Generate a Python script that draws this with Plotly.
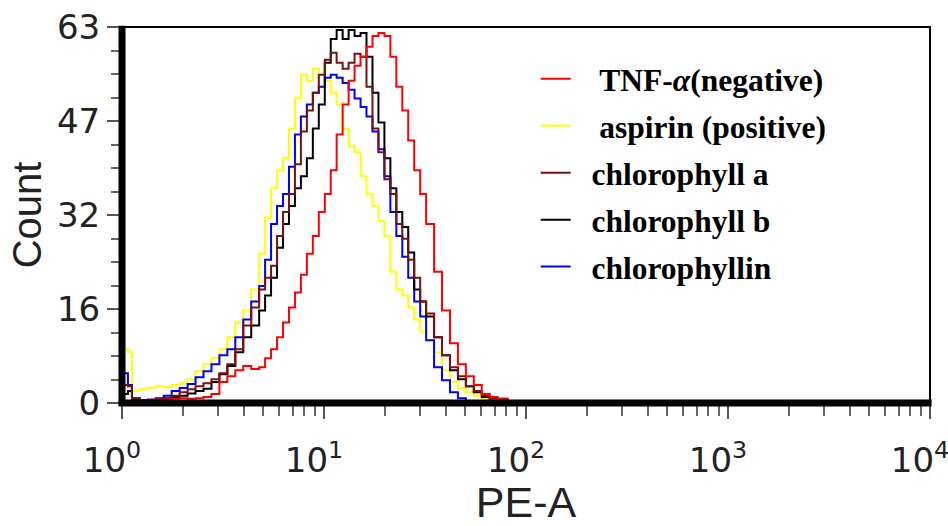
import plotly.graph_objects as go

# PE-A channel positions (bin positions)
pe_a = [1.023, 1.070, 1.120, 1.226, 1.342, 1.470, 1.609, 1.762, 1.929, 2.112,
        2.312, 2.532, 2.772, 3.035, 3.323, 3.638, 3.984, 4.362, 4.775, 5.110,
        5.470, 5.855, 6.268, 6.708, 7.180, 7.685, 8.226, 8.806, 9.424, 10.09,
        10.80, 11.55, 12.37, 13.24, 14.17, 15.17, 16.23, 17.38, 18.60, 19.91,
        21.31, 22.81, 24.41, 26.12, 27.96, 29.93, 32.03, 35.07, 38.39, 42.04,
        46.03, 50.39, 55.17, 60.40, 66.14, 72.40, 81.11, 90.85, 101.7]

tnf = [0, 0.3, 0.3, 0.3, 0.4, 0.6, 0.6, 0.7, 0.8, 0.7,
       0.8, 1.0, 1.5, 3.5, 4.5, 5.5, 6.2, 5.7, 6.0, 7.5,
       9, 11, 13.5, 16, 18.5, 21.5, 25, 28, 32, 35,
       39, 45, 50, 54, 56.5, 58, 59.7, 61.5, 62, 61.5,
       58, 53, 49, 44, 39, 35, 30, 22, 15.5, 10,
       6.5, 4.5, 3, 1.5, 1, 0.7, 0.3, 0, 0]

aspirin = [9, 8.5, 2, 2.3, 2.5, 2.8, 2.7, 3.0, 3.3, 4,
           5.3, 6.5, 7.5, 9, 11, 13.5, 15.5, 19, 25, 31,
           36, 39, 41, 46, 51, 55, 54, 56, 53, 54,
           52, 50, 46, 43, 42, 38, 35, 33, 30.5, 28,
           22, 19, 18, 16, 14, 12, 10.5, 8.5, 5.5, 3.5,
           2.5, 1.8, 1.2, 0.7, 0.3, 0, 0, 0, 0]

chl_a = [3, 2.8, 0.8, 0.3, 0.3, 0.5, 0.7, 1.2, 1.8, 2.3,
         2.8, 3.3, 4, 5, 6.5, 9, 13, 16, 19, 21,
         23, 28, 32, 35, 40, 45.5, 49, 52, 55, 57.5,
         58.7, 57, 56, 57, 58.5, 58, 53, 46, 42, 37.5,
         35, 30, 27.5, 24, 21, 17, 15, 11, 8, 6,
         4.5, 2.8, 2, 1.2, 0.8, 0.7, 0.3, 0, 0]

chl_b = [1.5, 2, 0.5, 0.3, 0.4, 0.6, 0.8, 1.0, 1.2, 1.6,
         2, 2.4, 3.5, 4.8, 6.2, 8.5, 11, 13, 15.5, 18,
         21, 26, 30, 33, 36, 38, 41, 46, 50, 57,
         61, 62.5, 61, 62.5, 61.5, 62, 58, 52, 47, 41,
         36, 32, 29.5, 25.2, 19, 17, 14.5, 11, 8, 5.5,
         4, 2.8, 1.8, 1, 0.4, 0, 0, 0, 0]

chlorophyllin = [5, 3, 0.8, 0.5, 0.6, 0.8, 1.2, 2, 2.5, 3.2,
                 4.3, 5.3, 6.5, 8, 9, 11, 14, 17, 19.6, 24,
                 30, 33, 35, 39.6, 45, 48, 50, 52, 53, 54.5,
                 55, 54.5, 53.6, 52.5, 51, 49.6, 48, 45.5, 42.5, 38,
                 32, 28, 24.5, 21, 17, 14.5, 10.5, 6, 3.8, 1.8,
                 0.8, 0.3, 0, 0, 0, 0, 0, 0, 0]

y_tickvals = [0, 15.75, 31.5, 47.25, 63]
y_ticktext = ["0", "16", "32", "47", "63"]
x_tickvals = [1, 10, 100, 1000, 10000]
x_ticktext = ["10<sup>0</sup>", "10<sup>1</sup>", "10<sup>2</sup>", "10<sup>3</sup>", "10<sup>4</sup>"]
x_minor = [m * d for d in (1, 10, 100, 1000) for m in range(2, 10)]

NB = "\u00a0"
series = [
    # (name, values, color, legend rank)
    (NB * 3 + "aspirin (positive)", aspirin, "#ffff00", 2),
    (NB * 2 + "chlorophyllin", chlorophyllin, "#0000ff", 5),
    (NB * 2 + "chlorophyll b", chl_b, "#000000", 4),
    (NB * 2 + "chlorophyll a", chl_a, "#7b1010", 3),
    (NB * 3 + "TNF-<i>α</i>(negative)", tnf, "#ff0000", 1),
]

fig = go.Figure()
for name, vals, color, rank in series:
    fig.add_trace(go.Scatter(
        x=pe_a, y=vals, mode="lines", name=name,
        line=dict(color=color, width=2, shape="hv"),
        legendrank=rank, legendgroup=name,
    ))

fig.update_layout(
    width=948, height=526,
    margin=dict(l=122, r=18, t=27, b=123),
    paper_bgcolor="white", plot_bgcolor="white",
    showlegend=True,
    legend=dict(
        x=0.512, y=0.934, xanchor="left", yanchor="top",
        font=dict(family="Liberation Serif", size=31.5, color="black", weight="bold"),
        bgcolor="rgba(0,0,0,0)", tracegroupgap=3, itemwidth=30,
    ),
    xaxis=dict(
        type="log", range=[0, 4], showgrid=False, zeroline=False, showline=False,
        automargin=False,
        tickmode="array", tickvals=x_tickvals, ticktext=x_ticktext,
        ticks="outside", ticklen=15, tickwidth=1.5, tickcolor="#555",
        minor=dict(tickmode="array", tickvals=x_minor, ticks="outside",
                   ticklen=12, tickwidth=1.5, tickcolor="#666"),
        tickfont=dict(family="DejaVu Sans", size=34, color="#222"),
        ticklabelshift=-10, ticklabelstandoff=12, ticklabeloverflow="allow",
        title=dict(text="PE-A", font=dict(family="Liberation Sans", size=43, color="#222"),
                   standoff=16),
    ),
    yaxis=dict(
        range=[0, 63], showgrid=False, zeroline=False, showline=False,
        automargin=False,
        tickmode="array", tickvals=y_tickvals, ticktext=y_ticktext,
        ticks="outside", ticklen=14, tickwidth=1.5, tickcolor="#555",
        minor=dict(tickmode="linear", tick0=0, dtick=3.9375, ticks="outside",
                   ticklen=10, tickwidth=1.5, tickcolor="#666"),
        tickfont=dict(family="DejaVu Sans", size=34, color="#222"),
        title=dict(text="Count", font=dict(family="Liberation Sans", size=40, color="#222"),
                   standoff=2),
    ),
    shapes=[
        dict(type="rect", xref="paper", yref="paper", x0=0, x1=1, y0=0, y1=1,
             line=dict(color="black", width=2), layer="above"),
        dict(type="line", xref="paper", yref="paper", x0=0, x1=0, y0=-0.008, y1=1.003,
             line=dict(color="black", width=7), layer="above"),
        dict(type="line", xref="paper", yref="paper", x0=-0.004, x1=1.002, y0=0, y1=0,
             line=dict(color="black", width=7), layer="above"),
    ],
)

fig.write_html("out.html")
